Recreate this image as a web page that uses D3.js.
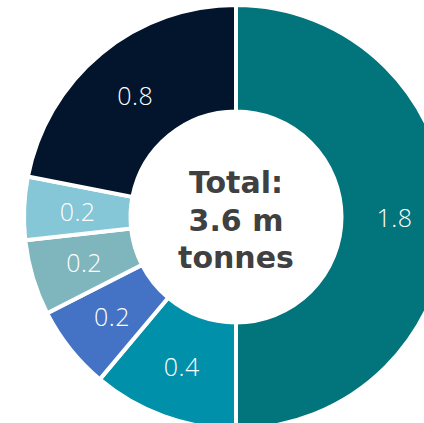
<!DOCTYPE html>
<html><head><meta charset="utf-8">
<script src="https://cdn.jsdelivr.net/npm/d3@7"></script>
<style>html,body{margin:0;padding:0;background:#fff;overflow:hidden}</style>
</head><body>
<svg id="c" width="424" height="423"></svg>
<script>
const categories = ["A","B","C","D","E","F"];
const values = [1.8, 0.4, 0.23, 0.207, 0.173, 0.79];
const labels = ["1.8","0.4","0.2","0.2","0.2","0.8"];
const colors = ["#02747c","#0190a9","#4472c4","#7fb5bd","#85c6d7","#02152c"];
const centerLines = ["Total:","3.6 m","tonnes"];

const svg = d3.select("#c");
const cx = 236, cy = 217;
const g = svg.append("g").attr("transform",`translate(${cx},${cy})`);
const pie = d3.pie().sort(null).value(d=>d.v);
const data = pie(categories.map((c,i)=>({c, v:values[i], l:labels[i], col:colors[i]})));
const arc = d3.arc().innerRadius(105.5).outerRadius(212);
const labelArc = d3.arc().innerRadius(107).outerRadius(210);
g.selectAll("path").data(data).join("path")
  .attr("d",arc).attr("fill",d=>d.data.col)
  .attr("stroke","#fff").attr("stroke-width",4).attr("stroke-linejoin","miter");
g.selectAll("text.lbl").data(data).join("text").attr("class","lbl")
  .attr("transform",d=>`translate(${labelArc.centroid(d)})`)
  .attr("text-anchor","middle").attr("dominant-baseline","central")
  .attr("fill","#fff").style("font-family","'Open Sans', sans-serif")
  .style("font-weight",300).style("font-size","25px").style("letter-spacing","0.5px")
  .text(d=>d.data.l);
const baselines = [-24, 14, 51];
g.selectAll("text.ctr").data(centerLines).join("text").attr("class","ctr")
  .attr("x",0).attr("y",(d,i)=>baselines[i])
  .attr("text-anchor","middle").attr("fill","#404040")
  .style("font-family","'DejaVu Sans', sans-serif").style("font-weight",700)
  .style("font-size","30px")
  .text(d=>d);
</script>
</body></html>
